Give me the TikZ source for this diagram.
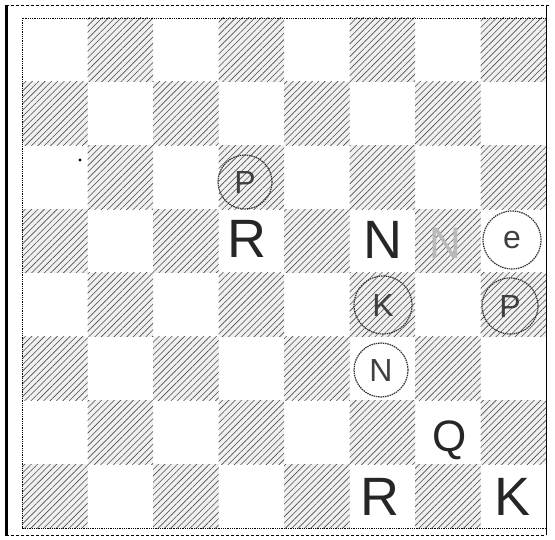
\documentclass[tikz,border=0pt]{standalone}
\usepackage{fontspec}
\setmainfont{Liberation Sans}
\usetikzlibrary{patterns.meta}
\tikzset{
  darksq/.style={pattern={Lines[angle=45,distance=4.5pt,line width=0.6pt]},pattern color=black!70},
  darkbg/.style={fill=gray!12},
  wpiece/.style={inner sep=0pt,text=black!85,font=\fontsize{54}{54}\selectfont},
  bpiece/.style={draw=black!80,line width=1.2pt,dash pattern=on 1.5pt off 0.8pt,circle,inner sep=0pt,text=black!75,font=\fontsize{32}{32}\selectfont},
  ghost/.style={inner sep=0pt,text=gray!55,font=\fontsize{44}{44}\selectfont},
  frame/.style={draw=black,line width=0.8pt}
}
\begin{document}
\begin{tikzpicture}[x=1pt,y=-1pt]
\useasboundingbox (0,0) rectangle (555,540);
% squares
\foreach \i in {0,...,7}{
  \foreach \j in {0,...,7}{
    \pgfmathtruncatemacro\odd{mod(\i+\j,2)}
    \ifnum\odd=1
      \fill[darkbg] ({22+65.5*\i},{18+63.75*\j}) rectangle ++(65.5,63.75);
      \fill[darksq] ({22+65.5*\i},{18+63.75*\j}) rectangle ++(65.5,63.75);
    \fi
  }
}
% board edge and outer frame
\draw[frame,densely dotted] (22,18) rectangle (546,528);
\draw[line width=3pt] (6,5) -- (6,536);
\draw[frame,densely dashed] (6,5) -- (550,5);
\draw[frame,densely dashed] (6,535) -- (546,535);
\draw[frame] (546,5) -- (546,535);
% small dot
\fill (80,160) circle (1.6pt);
% pieces
\node[bpiece,minimum size=54pt] (bP1) at (245,182) {P};
\node[wpiece] (wR1) at (247,239) {R};
\node[wpiece] (wN1) at (383,240) {N};
\node[ghost] (gN) at (445,243) {N};
\node[bpiece,minimum size=58pt] (bP2) at (512,240) {e};
\node[bpiece,minimum size=58pt] (bK) at (383,305) {K};
\node[bpiece,minimum size=56pt] (bB) at (510,306) {P};
\node[bpiece,minimum size=54pt] (bN) at (381,370) {N};
\node[wpiece,font=\fontsize{44}{44}\selectfont] (wQ) at (450,440) {Q};
\node[wpiece] (wR2) at (380,497) {R};
\node[wpiece] (wK) at (513,497) {K};
\end{tikzpicture}
\end{document}
